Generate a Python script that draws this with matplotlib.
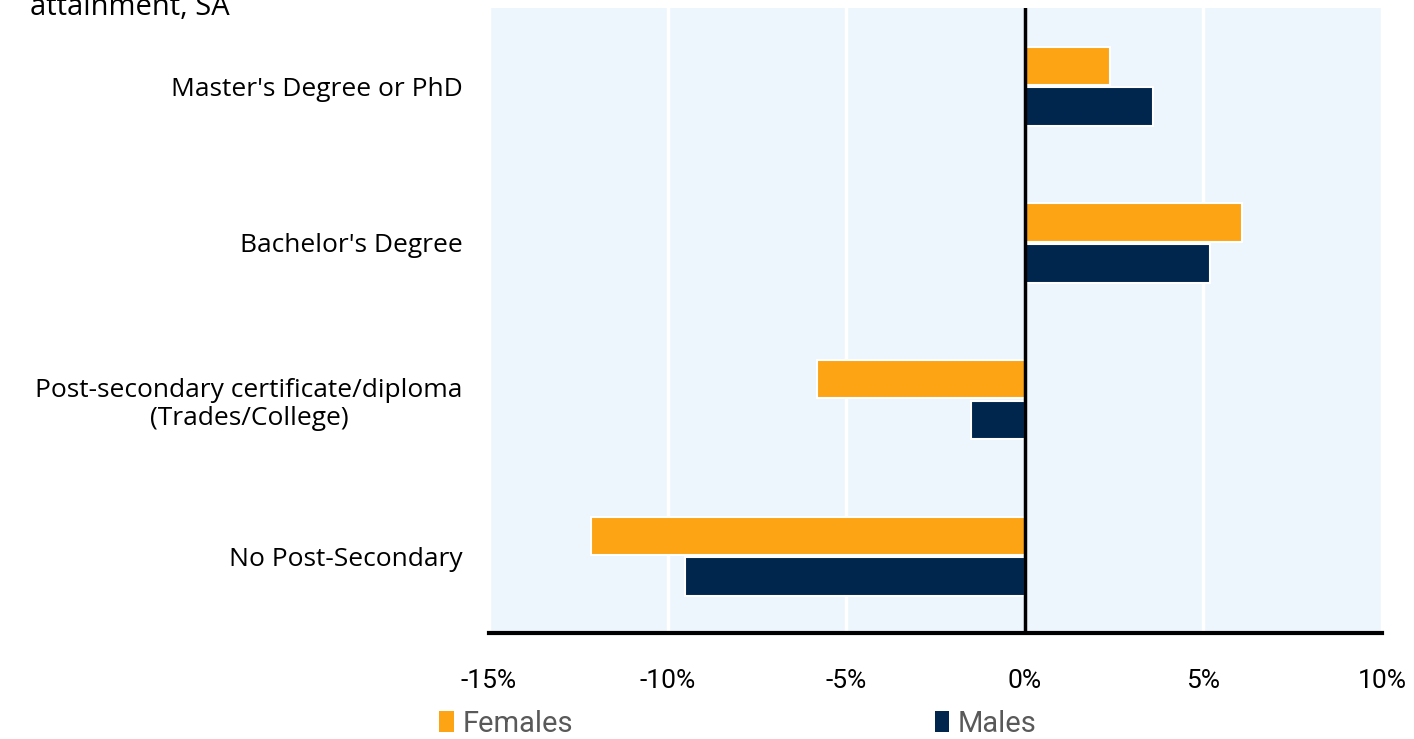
"""Change in employment by educational attainment, females vs males."""

import numpy as np
import matplotlib.pyplot as plt
from matplotlib.patches import Patch
from matplotlib.ticker import FuncFormatter

plt.rcParams['font.family'] = ['Open Sans', 'DejaVu Sans']
narrow = ['Roboto', 'DejaVu Sans']

# %% data

categories = ['No Post-Secondary',
              'Post-secondary certificate/diploma\n(Trades/College)',
              "Bachelor's Degree",
              "Master's Degree or PhD"]
females = [-12.15, -5.82, 6.07, 2.38]
males = [-9.52, -1.51, 5.18, 3.58]
xticks = [-15, -10, -5, 0, 5, 10]

orange = '#FCA414'
navy = '#00264D'
bg = '#EEF6FD'

# %% plot

fig = plt.figure(figsize=(14.14, 7.39), dpi=100)
ax = fig.add_axes([0.3458, 0.1434, 0.6316, 0.8458])
ax.set_facecolor(bg)

y = np.arange(len(categories))
h = 0.245
off = 0.13

ax.barh(y + off, females, height=h, color=orange, edgecolor='white',
        linewidth=1.5, zorder=3)
ax.barh(y - off, males, height=h, color=navy, edgecolor='white',
        linewidth=1.5, zorder=3)

for xv in xticks:
    if xv != 0:
        ax.axvline(xv, color='white', linewidth=2.5, zorder=1)
ax.axvline(0, color='black', linewidth=2.5, zorder=4)

ax.set_xlim(-15, 10)
ax.set_ylim(-0.49, 3.5)
ax.set_xticks(xticks)
ax.xaxis.set_major_formatter(FuncFormatter(lambda v, p: f'{v:.0f}%'))
ax.tick_params(axis='x', length=0, pad=26)
for lab in ax.get_xticklabels():
    lab.set_family(narrow)
    lab.set_fontsize(19)
ax.set_yticks(y)
ax.set_yticklabels(categories, fontsize=19, multialignment='center')
ax.tick_params(axis='y', length=0, pad=19)

for side in ['top', 'right', 'left']:
    ax.spines[side].set_visible(False)
ax.spines['bottom'].set_linewidth(3)
ax.spines['bottom'].set_zorder(5)

fig.text(0.021, 0.99, 'attainment, SA', fontsize=21, va='center')

handles = [Patch(facecolor=orange, label='Females'),
           Patch(facecolor=navy, label='Males')]
fig.legend(handles=handles, ncol=2, loc='lower left',
           bbox_to_anchor=(0.292, -0.034), frameon=False,
           prop={'family': narrow, 'size': 21},
           labelcolor='#595959', handlelength=0.5, handleheight=0.7,
           handletextpad=0.3, columnspacing=12.4)

plt.savefig('out.png', dpi=100)
